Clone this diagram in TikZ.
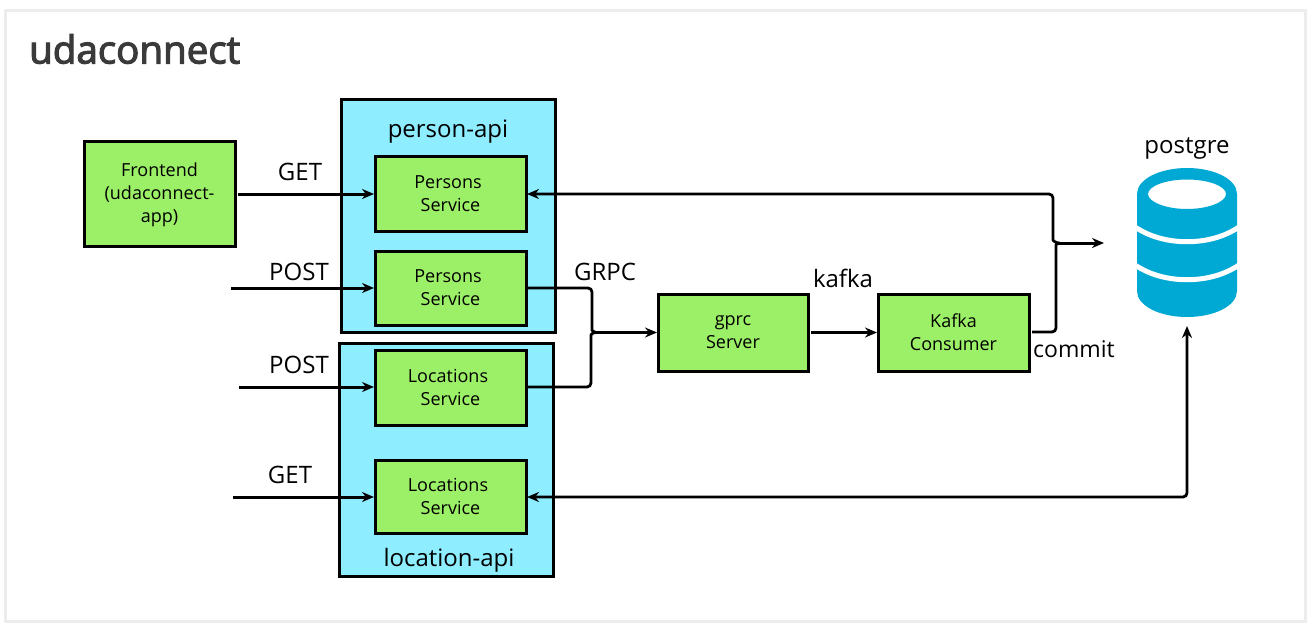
\documentclass[tikz,border=0pt]{standalone}
\usepackage{fontspec}
\setmainfont{Open Sans}
\newfontfamily\titlefont[FakeBold=3]{Open Sans}
\usetikzlibrary{arrows.meta}
\definecolor{boxgreen}{HTML}{9CF067}
\definecolor{apiblue}{HTML}{8EEDFF}
\definecolor{dbblue}{HTML}{00A8D4}
\definecolor{framegrey}{HTML}{EDEDED}
\definecolor{titlegrey}{HTML}{3A3A3A}
\tikzset{
  x=1pt,y=-1pt,
  apibox/.style={draw=black,line width=3pt,fill=apiblue,outer sep=0pt,inner sep=0pt},
  svcbox/.style={draw=black,line width=3pt,fill=boxgreen,align=center,font=\fontsize{18}{23}\selectfont,inner sep=0pt,outer sep=0pt},
  lbl/.style={font=\fontsize{24}{28}\selectfont,inner sep=0pt,text=black},
  conn/.style={draw=black,line width=2.8pt,rounded corners=4pt},
  arr/.style={conn,line width=3pt,-{Stealth[length=12pt,width=10pt]},shorten >=1pt},
  arrb/.style={conn,{Stealth[length=12pt,width=10pt]}-{Stealth[length=12pt,width=10pt]},shorten <=1pt}
}
\newcommand{\svc}[6]{\node[svcbox,minimum width=#4-#2,minimum height=#5-#3,anchor=north west] (#1) at (#2,#3) {#6};}
\begin{document}
\begin{tikzpicture}
\useasboundingbox (0,0) rectangle (1316,632);
\fill[white] (0,0) rectangle (1316,632);
\node[draw=framegrey,line width=3pt,minimum width=1300pt,minimum height=611pt,anchor=north west,inner sep=0pt,outer sep=0pt] (frame) at (5,10) {};
\node[anchor=west,inner sep=0pt,text=titlegrey,font=\fontsize{38.5}{44}\selectfont\titlefont] (title) at (29,49) {udaconnect};

\node[apibox,minimum width=214pt,minimum height=233pt,anchor=north west] (personapi) at (341,99) {};
\node[apibox,minimum width=214pt,minimum height=233pt,anchor=north west] (locationapi) at (339,343) {};
\node[lbl] (personlbl) at (448,132) {person-api};
\node[lbl] (locationlbl) at (449,560) {location-api};

\svc{front}{84}{141}{235}{246}{\rule{0pt}{16pt}Frontend\\(udaconnect-\\app)}
\svc{ps1}{375}{156}{526}{231}{Persons\hspace*{5pt}\\Service}
\svc{ps2}{375}{251}{526}{325}{Persons\hspace*{5pt}\\Service}
\svc{ls1}{375}{350}{526}{425}{Locations\hspace*{5pt}\\Service}
\svc{ls2}{375}{460}{526}{533}{Locations\hspace*{5pt}\\Service}
\svc{grpc}{658}{294}{808}{371}{gprc\\Server}
\svc{kc}{878}{294}{1029}{371}{Kafka\\Consumer}

% database
\path[fill=dbblue,even odd rule] (1137,194) .. controls (1137,179) and (1160,168) .. (1187,168)
  .. controls (1214,168) and (1237,179) .. (1237,194) -- (1237,291)
  .. controls (1237,306) and (1214,317) .. (1187,317)
  .. controls (1160,317) and (1137,306) .. (1137,291) -- cycle
  (1148,194) .. controls (1148,186) and (1166,179.5) .. (1187,179.5)
  .. controls (1208,179.5) and (1226,186) .. (1226,194)
  .. controls (1226,202) and (1208,209) .. (1187,209)
  .. controls (1166,209) and (1148,202) .. (1148,194) -- cycle;
\draw[white,line width=5pt] (1135,227) .. controls (1150,237) and (1168,241.7) .. (1187,241.7) .. controls (1206,241.7) and (1224,237) .. (1239,227);
\draw[white,line width=5pt] (1135,265) .. controls (1150,275) and (1168,279.7) .. (1187,279.7) .. controls (1206,279.7) and (1224,275) .. (1239,265);
\coordinate (dbin) at (1105,243);
\coordinate (dbbot) at (1187,326);
\coordinate (post1) at (231,288);
\coordinate (post2) at (239,387);
\coordinate (get2) at (233,497);
\coordinate (j1) at (592,332.5);
\coordinate (j2) at (1056,243);

\draw[arr] ([xshift=3pt]front.east |- 0,194) -- (0,194 -| ps1.west);
\draw[arr] (post1) -- (post1 -| ps2.west);
\draw[arr] (post2) -- (post2 -| ls1.west);
\draw[arr] (get2) -- (get2 -| ls2.west);

\draw[conn] ([xshift=2pt]ps2.east |- 0,288) -- (592,288) -- (592,326) .. controls (592,330) and (593,332.5) .. (596,332.5);
\draw[conn] ([xshift=2pt]ls1.east |- 0,387) -- (591,387) -- (591,339) .. controls (591,335) and (592,332.5) .. (596,332.5);
\draw[arr] (j1) -- (j1 -| grpc.west);
\draw[arr] ([xshift=3pt]grpc.east |- j1) -- (j1 -| kc.west);

\draw[{Stealth[length=12pt,width=10pt]}-,conn,shorten <=1pt] (ps1.east |- 0,194) -- (1053,194) -- (1053,236) .. controls (1053,240) and (1055,243) .. (1059,243);
\draw[conn] ([xshift=3pt]kc.east |- 0,332) -- (1056,332) -- (1056,249) .. controls (1056,245) and (1057,243) .. (1060,243);
\draw[arr] (j2) -- (dbin);
\draw[arrb] (ls2.east |- 0,497) -- (1187,497) -- (dbbot);

\node[lbl] (l1) at (300,172) {GET};
\node[lbl] (l2) at (299,272) {POST};
\node[lbl] (l3) at (299,365) {POST};
\node[lbl] (l4) at (290,475) {GET};
\node[lbl] (l5) at (605,272) {GRPC};
\node[lbl] (l6) at (843,278) {kafka};
\node[lbl,font=\fontsize{23}{28}\selectfont] (l7) at (1074,349) {commit};
\node[lbl] (l8) at (1187,148) {postgre};
\end{tikzpicture}
\end{document}
